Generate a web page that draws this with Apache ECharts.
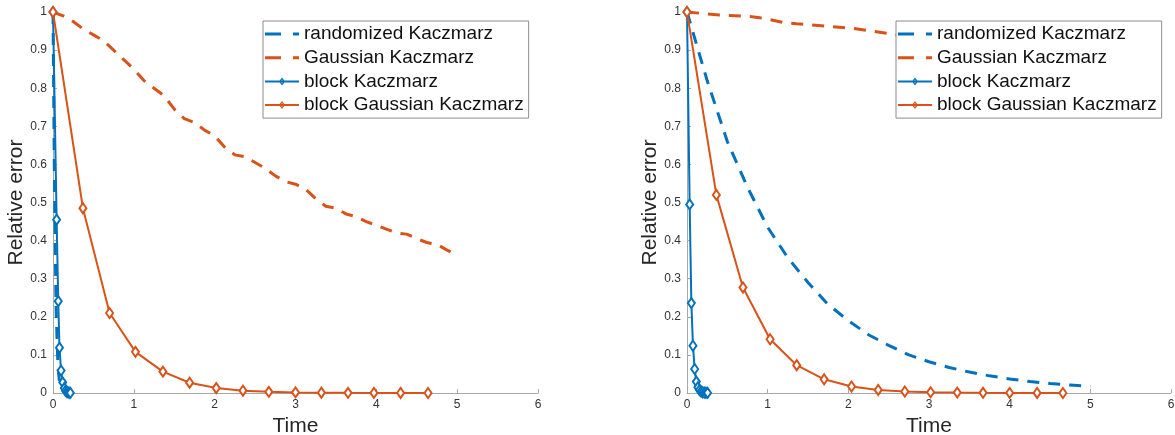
<!DOCTYPE html>
<html>
<head>
<meta charset="utf-8">
<script src="https://cdn.jsdelivr.net/npm/echarts@6/dist/echarts.min.js"></script>
<style>html,body{margin:0;padding:0;background:#fff}#c{width:1175px;height:435px}</style>
</head>
<body>
<div id="c"></div>
<script>
// ---- Data ----
const seriesNames = ['randomized Kaczmarz', 'Gaussian Kaczmarz', 'block Kaczmarz', 'block Gaussian Kaczmarz'];
const xTicks = [0, 1, 2, 3, 4, 5, 6];
const yTicks = [0, 0.1, 0.2, 0.3, 0.4, 0.5, 0.6, 0.7, 0.8, 0.9, 1];

// Left panel
const leftRK_t = [0, 0.005, 0.01, 0.015, 0.02, 0.025, 0.03, 0.035, 0.04, 0.05, 0.06, 0.07, 0.08, 0.1, 0.12, 0.15, 0.2];
const leftRK_e = [1, 0.88, 0.75, 0.62, 0.52, 0.44, 0.35, 0.27, 0.21, 0.14, 0.08, 0.05, 0.03, 0.015, 0.007, 0.003, 0.001];
const leftGK_t = [0, 0.125, 0.25, 0.375, 0.5, 0.625, 0.75, 0.875, 1.0, 1.125, 1.25, 1.375, 1.5, 1.625, 1.75, 1.875, 2.0, 2.125, 2.25, 2.375, 2.5, 2.625, 2.75, 2.875, 3.0, 3.125, 3.25, 3.375, 3.5, 3.625, 3.75, 3.875, 4.0, 4.125, 4.25, 4.375, 4.5, 4.625, 4.75, 4.875, 5.0];
const leftGK_e = [1.0, 0.99, 0.975, 0.955, 0.94, 0.925, 0.90, 0.875, 0.85, 0.82, 0.80, 0.78, 0.745, 0.72, 0.71, 0.69, 0.675, 0.645, 0.625, 0.62, 0.605, 0.59, 0.57, 0.555, 0.548, 0.535, 0.51, 0.49, 0.485, 0.47, 0.463, 0.45, 0.44, 0.43, 0.42, 0.417, 0.405, 0.395, 0.39, 0.375, 0.362];
const leftBK_t = [0, 0.045, 0.065, 0.08, 0.10, 0.12, 0.14, 0.155, 0.17, 0.185, 0.20, 0.215];
const leftBK_e = [1, 0.455, 0.241, 0.119, 0.059, 0.028, 0.013, 0.006, 0.003, 0.0015, 0.0007, 0.0003];
const leftBGK_t = [0, 0.37, 0.70, 1.02, 1.36, 1.69, 2.02, 2.35, 2.67, 3.0, 3.32, 3.65, 3.97, 4.30, 4.64];
const leftBGK_e = [1, 0.485, 0.21, 0.108, 0.056, 0.027, 0.013, 0.006, 0.003, 0.0015, 0.0008, 0.0004, 0.0002, 0.0001, 0.00005];

// Right panel
const rightRK_t = [0, 0.25, 0.5, 0.75, 1.0, 1.25, 1.5, 1.75, 2.0, 2.25, 2.5, 2.75, 3.0, 3.25, 3.5, 3.75, 4.0, 4.25, 4.5, 4.75, 5.0];
const rightRK_e = [1, 0.82, 0.66, 0.54, 0.435, 0.355, 0.29, 0.232, 0.19, 0.153, 0.125, 0.10, 0.082, 0.067, 0.055, 0.045, 0.037, 0.030, 0.025, 0.021, 0.017];
const rightGK_t = [0, 0.4, 0.78, 0.9, 1.05, 1.2, 1.36, 1.73, 2.06, 2.39, 2.6, 3.0, 3.5, 4.0, 4.5, 5.0];
const rightGK_e = [1, 0.992, 0.988, 0.985, 0.979, 0.972, 0.969, 0.963, 0.957, 0.947, 0.94, 0.93, 0.92, 0.908, 0.897, 0.885];
const rightBK_t = [0, 0.033, 0.054, 0.074, 0.095, 0.116, 0.135, 0.155, 0.175, 0.195, 0.215, 0.235, 0.255];
const rightBK_e = [1, 0.495, 0.236, 0.124, 0.063, 0.03, 0.015, 0.008, 0.004, 0.002, 0.001, 0.0005, 0.0002];
const rightBGK_t = [0, 0.364, 0.694, 1.03, 1.36, 1.70, 2.04, 2.37, 2.70, 3.02, 3.35, 3.67, 4.0, 4.34, 4.66];
const rightBGK_e = [1, 0.52, 0.277, 0.141, 0.073, 0.036, 0.017, 0.008, 0.004, 0.002, 0.001, 0.0005, 0.0003, 0.0001, 0.00005];

// ---- Chart ----
const BLUE = '#0072BD', ORANGE = '#D95319';
const FONT = 'Liberation Sans, Arial, Helvetica, sans-serif';
const zip = (a, b) => a.map((v, i) => [v, b[i]]);

// legend icons (34 x 14 box; tiny corner specks fix the bounding box)
const BOX = 'M0,0h0.05v0.05h-0.05z M33.95,13.95h0.05v0.05h-0.05z ';
const ICON_DASH = 'path://' + BOX + 'M0,5.5h16v3h-16z M28,5.5h6v3h-6z';
const ICON_MARK = 'path://' + BOX + 'M0,6h34v2h-34z M17,3L20,7L17,11L14,7Z M17,5L15.7,7L17,9L18.3,7Z';

function xAxis(gi) {
  return {
    type: 'value', gridIndex: gi, min: xTicks[0], max: xTicks[xTicks.length - 1], interval: 1,
    name: 'Time', nameLocation: 'middle', nameGap: 21,
    nameTextStyle: { fontSize: 21, color: '#262626', fontFamily: FONT },
    axisLine: { show: true, onZero: false, lineStyle: { color: '#a8a8a8', width: 1 } },
    axisTick: { show: true, inside: true, length: 4, lineStyle: { color: '#a8a8a8' } },
    axisLabel: { fontSize: 12, color: '#333', fontFamily: FONT, margin: 6 },
    splitLine: { show: false }
  };
}
function yAxis(gi) {
  return {
    type: 'value', gridIndex: gi, min: yTicks[0], max: yTicks[yTicks.length - 1], interval: 0.1,
    name: 'Relative error', nameLocation: 'middle', nameGap: 24, nameRotate: 90,
    nameTextStyle: { fontSize: 21, color: '#262626', fontFamily: FONT },
    axisLine: { show: true, onZero: false, lineStyle: { color: '#a8a8a8', width: 1 } },
    axisTick: { show: true, inside: true, length: 4, lineStyle: { color: '#a8a8a8' } },
    axisLabel: { fontSize: 12, color: '#333', fontFamily: FONT, margin: 6,
      formatter: v => String(+v.toFixed(1)) },
    splitLine: { show: false }
  };
}
function dashed(name, color, data, gi) {
  return { name, type: 'line', xAxisIndex: gi, yAxisIndex: gi, data, showSymbol: false, symbol: 'none',
    lineStyle: { color, width: 3, type: [12, 9] }, itemStyle: { color }, z: 2 };
}
function marked(name, color, data, gi) {
  return { name, type: 'line', xAxisIndex: gi, yAxisIndex: gi, data,
    symbol: 'emptyDiamond', symbolSize: [7, 10], showSymbol: true,
    lineStyle: { color, width: 2 }, itemStyle: { color, borderColor: color, borderWidth: 1.5 }, z: 3 };
}
function legend(left) {
  const noBorder = { borderWidth: 0 };
  return {
    orient: 'vertical', left, top: 21,
    data: [
      { name: seriesNames[0], icon: ICON_DASH, itemStyle: noBorder },
      { name: seriesNames[1], icon: ICON_DASH, itemStyle: noBorder },
      { name: seriesNames[2], icon: ICON_MARK, itemStyle: noBorder },
      { name: seriesNames[3], icon: ICON_MARK, itemStyle: noBorder }
    ],
    itemStyle: { borderWidth: 0 },
    backgroundColor: '#fff', borderColor: '#8c8c8c', borderWidth: 1,
    padding: [3, 5, 3, 2], itemGap: 3.7, itemWidth: 34, itemHeight: 14,
    textStyle: { fontSize: 19, color: '#111', fontFamily: FONT, lineHeight: 20 },
    selectedMode: false, z: 10
  };
}

const chart = echarts.init(document.getElementById('c'), null, { renderer: 'canvas' });
chart.setOption({
  animation: false,
  backgroundColor: '#fff',
  grid: [
    { left: 53, top: 12, width: 485, height: 381, containLabel: false, outerBoundsMode: 'none' },
    { left: 687, top: 12, width: 484, height: 381, containLabel: false, outerBoundsMode: 'none' }
  ],
  xAxis: [xAxis(0), xAxis(1)],
  yAxis: [yAxis(0), yAxis(1)],
  legend: [legend(263), legend(896)],
  series: [
    dashed(seriesNames[0], BLUE, zip(leftRK_t, leftRK_e), 0),
    dashed(seriesNames[1], ORANGE, zip(leftGK_t, leftGK_e), 0),
    marked(seriesNames[2], BLUE, zip(leftBK_t, leftBK_e), 0),
    marked(seriesNames[3], ORANGE, zip(leftBGK_t, leftBGK_e), 0),
    dashed(seriesNames[0], BLUE, zip(rightRK_t, rightRK_e), 1),
    dashed(seriesNames[1], ORANGE, zip(rightGK_t, rightGK_e), 1),
    marked(seriesNames[2], BLUE, zip(rightBK_t, rightBK_e), 1),
    marked(seriesNames[3], ORANGE, zip(rightBGK_t, rightBGK_e), 1)
  ]
});
</script>
</body>
</html>
